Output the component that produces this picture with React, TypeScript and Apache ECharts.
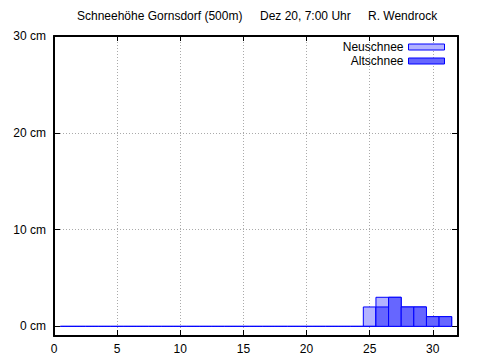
import React, { useEffect, useRef } from "react";
import * as echarts from "echarts";

const days = [1, 2, 3, 4, 5, 6, 7, 8, 9, 10, 11, 12, 13, 14, 15, 16, 17, 18, 19, 20, 21, 22, 23, 24, 25, 26, 27, 28, 29, 30, 31];
const altschnee = [0, 0, 0, 0, 0, 0, 0, 0, 0, 0, 0, 0, 0, 0, 0, 0, 0, 0, 0, 0, 0, 0, 0, 0, 0, 2, 3, 2, 2, 1, 1];
const neuschnee = [0, 0, 0, 0, 0, 0, 0, 0, 0, 0, 0, 0, 0, 0, 0, 0, 0, 0, 0, 0, 0, 0, 0, 0, 2, 1, 0, 0, 0, 0, 0];
const xTicks = [0, 5, 10, 15, 20, 25, 30];
const yTicks = [0, 10, 20, 30];
const titleParts = ["Schneehöhe Gornsdorf (500m)", "Dez 20, 7:00 Uhr", "R. Wendrock"];

const FONT = "Liberation Sans";
const BLUE = "#0000ff";
const LIGHT = "#b3b3ff";
const DARK = "#6666ff";
const GRID = "#aaaaaa";

function makeRender(fill: string) {
  return (params: any, api: any) => {
    const x = api.value(0);
    const v = api.value(1);
    const p0 = api.coord([x - 0.5, 0]);
    const p1 = api.coord([x + 0.5, v]);
    if (!v) {
      return {
        type: "line",
        shape: { x1: p0[0], y1: p0[1], x2: p1[0], y2: p0[1] },
        style: { stroke: BLUE, lineWidth: 1 },
      };
    }
    return {
      type: "rect",
      shape: { x: p0[0], y: p1[1], width: p1[0] - p0[0], height: p0[1] - p1[1] },
      style: { fill, stroke: BLUE, lineWidth: 1 },
    };
  };
}

export default function App() {
  const ref = useRef<HTMLDivElement>(null);
  useEffect(() => {
    document.body.style.margin = "0";
    const chart = echarts.init(ref.current!, undefined, { renderer: "svg" });
    const totalData = days.map((d, i) => [d, altschnee[i] + neuschnee[i]]);
    const altData = days.map((d, i) => [d, altschnee[i]]);
    const titleLefts = [77, 260, 368];
    const axisCommon = {
      axisLine: { show: true, onZero: false, lineStyle: { color: "#000", width: 2 } },
    };
    const legendCommon = {
      right: 35,
      padding: 0,
      align: "right",
      itemWidth: 36,
      itemHeight: 6,
      selectedMode: false,
      textStyle: { fontFamily: FONT, fontSize: 12, lineHeight: 12, color: "#000" },
    };
    chart.setOption({
      animation: false,
      textStyle: { fontFamily: FONT },
      title: titleParts.map((t, i) => ({
        text: t,
        left: titleLefts[i],
        top: 10,
        padding: 0,
        textStyle: { fontFamily: FONT, fontSize: 12, fontWeight: "normal", color: "#000" },
      })),
      grid: { left: 54, right: 22, top: 36, bottom: 24, containLabel: false },
      legend: [
        {
          ...legendCommon,
          data: [{ name: "Neuschnee", icon: "rect", itemStyle: { color: LIGHT, borderColor: BLUE, borderWidth: 1 } }],
          top: 41,
        },
        {
          ...legendCommon,
          data: [{ name: "Altschnee", icon: "rect", itemStyle: { color: DARK, borderColor: BLUE, borderWidth: 1 } }],
          top: 55,
        },
      ],
      xAxis: [
        {
          type: "value",
          min: 0,
          max: 32,
          position: "bottom",
          ...axisCommon,
          axisTick: { show: true, inside: true, length: 6, customValues: xTicks, lineStyle: { color: "#000", width: 1 } },
          axisLabel: { customValues: xTicks, color: "#000", fontSize: 12, fontFamily: FONT, margin: 7 },
          splitLine: { show: true, lineStyle: { color: GRID, width: 1, type: [1, 2] } },
        },
        {
          type: "value",
          min: 0,
          max: 32,
          position: "top",
          ...axisCommon,
          axisTick: { show: true, inside: true, length: 5, customValues: xTicks, lineStyle: { color: "#000", width: 1 } },
          axisLabel: { show: false },
          splitLine: { show: false },
        },
      ],
      yAxis: [
        {
          type: "value",
          min: -1,
          max: 30,
          position: "left",
          ...axisCommon,
          axisTick: { show: true, inside: true, length: 6, customValues: yTicks, lineStyle: { color: "#000", width: 1 } },
          axisLabel: { customValues: yTicks, formatter: "{value} cm", color: "#000", fontSize: 12, fontFamily: FONT, margin: 8 },
          splitLine: { show: true, lineStyle: { color: GRID, width: 1, type: [1, 2] } },
        },
        {
          type: "value",
          min: -1,
          max: 30,
          position: "right",
          ...axisCommon,
          axisTick: { show: true, inside: true, length: 6, customValues: yTicks, lineStyle: { color: "#000", width: 1 } },
          axisLabel: { show: false },
          splitLine: { show: false },
        },
      ],
      series: [
        {
          name: "Neuschnee",
          type: "custom",
          xAxisIndex: 0,
          yAxisIndex: 0,
          itemStyle: { color: LIGHT, borderColor: BLUE },
          renderItem: makeRender(LIGHT),
          data: totalData,
          clip: true,
        },
        {
          name: "Altschnee",
          type: "custom",
          xAxisIndex: 0,
          yAxisIndex: 0,
          itemStyle: { color: DARK, borderColor: BLUE },
          renderItem: makeRender(DARK),
          data: altData,
          clip: true,
        },
      ],
    });
    return () => chart.dispose();
  }, []);
  return <div ref={ref} style={{ width: 480, height: 360 }} />;
}
